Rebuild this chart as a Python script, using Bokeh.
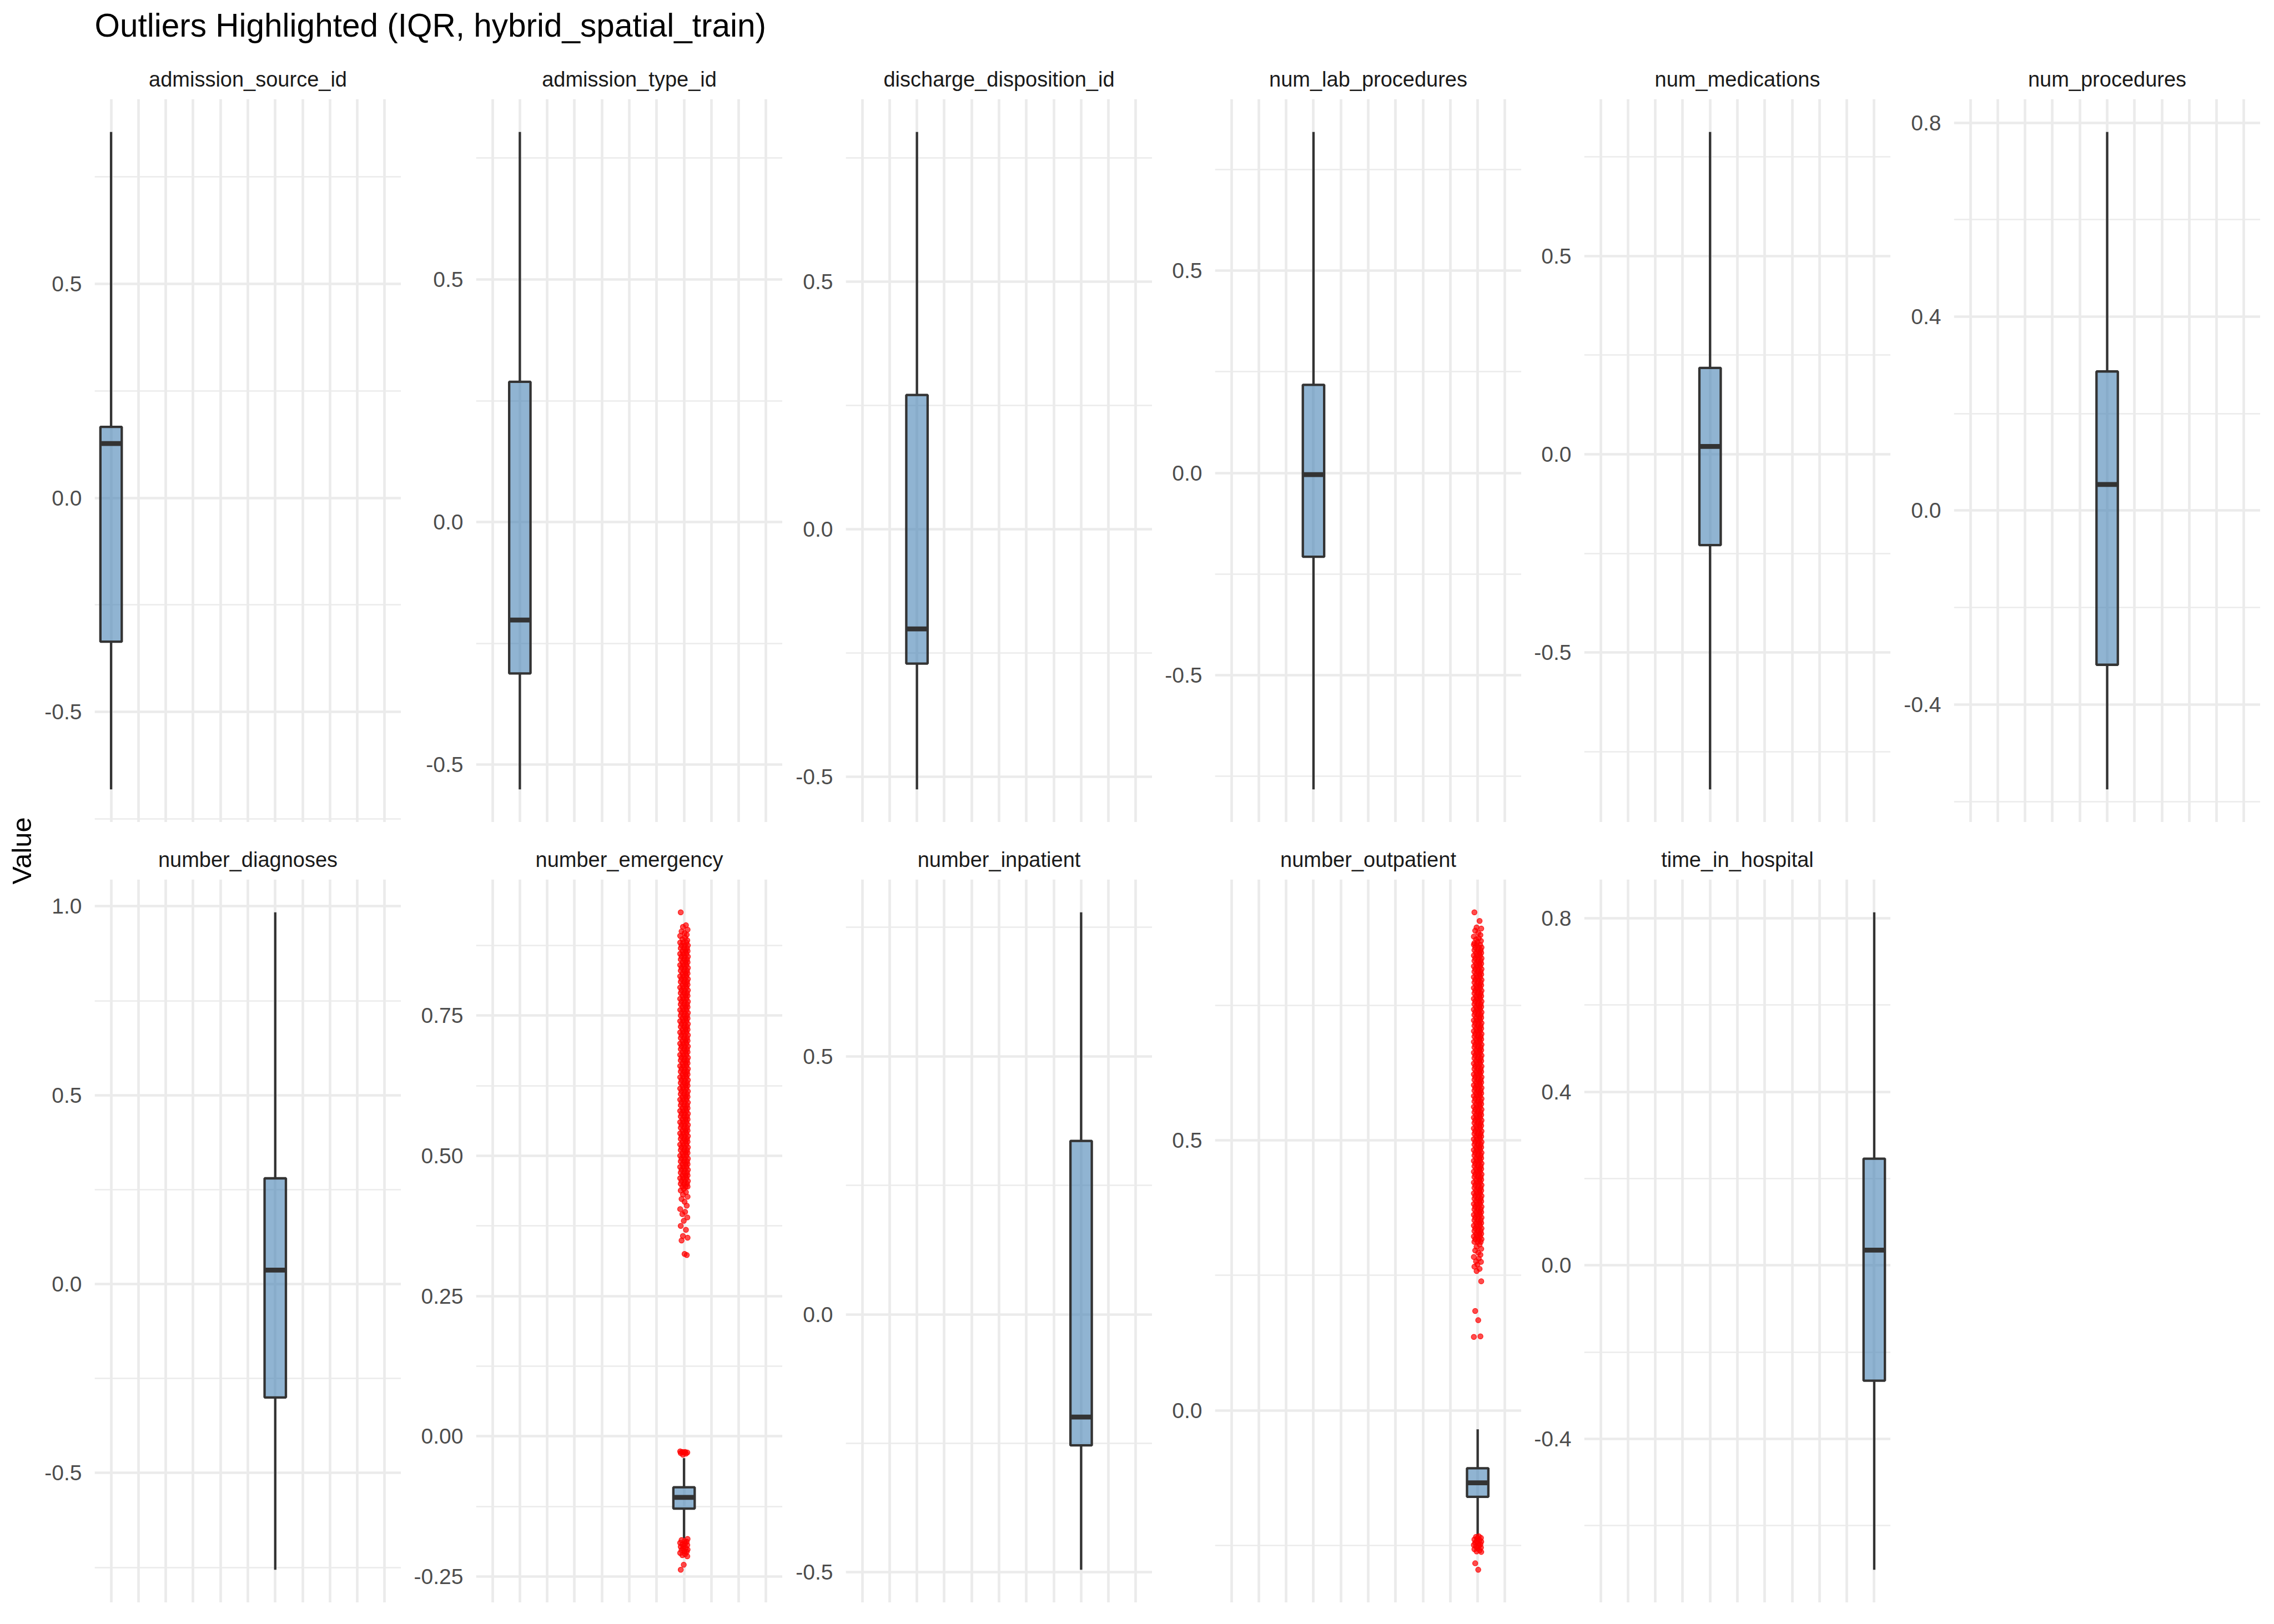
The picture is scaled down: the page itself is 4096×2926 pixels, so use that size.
from bokeh.plotting import figure
from bokeh.layouts import row, column
from bokeh.models import Range1d, FixedTicker, NumeralTickFormatter, Grid
from bokeh.embed import file_html
from bokeh.resources import INLINE

# ---------------- data ----------------
TITLE = "Outliers Highlighted (IQR, hybrid_spatial_train)"
Y_LABEL = "Value"

variables = ["admission_source_id", "admission_type_id", "discharge_disposition_id",
             "num_lab_procedures", "num_medications", "num_procedures",
             "number_diagnoses", "number_emergency", "number_inpatient",
             "number_outpatient", "time_in_hospital"]

whisker_low  = [-0.681, -0.551, -0.525, -0.782, -0.845, -0.575, -0.756, -0.182, -0.495, -0.232, -0.702]
q1           = [-0.336, -0.312, -0.271, -0.207, -0.229, -0.318, -0.300, -0.129, -0.254, -0.160, -0.266]
median       = [ 0.127, -0.202, -0.201, -0.004,  0.020,  0.054,  0.037, -0.109, -0.199, -0.134,  0.035]
q3           = [ 0.166,  0.289,  0.271,  0.218,  0.218,  0.287,  0.280, -0.091,  0.336, -0.107,  0.246]
whisker_high = [ 0.855,  0.804,  0.802,  0.843,  0.813,  0.781,  0.984, -0.039,  0.779, -0.035,  0.814]

y_major = [[-0.5, 0.0, 0.5], [-0.5, 0.0, 0.5], [-0.5, 0.0, 0.5], [-0.5, 0.0, 0.5],
           [-0.5, 0.0, 0.5], [-0.4, 0.0, 0.4, 0.8], [-0.5, 0.0, 0.5, 1.0],
           [-0.25, 0.0, 0.25, 0.5, 0.75], [-0.5, 0.0, 0.5], [0.0, 0.5], [-0.4, 0.0, 0.4, 0.8]]
y_labels = [["-0.5", "0.0", "0.5"], ["-0.5", "0.0", "0.5"], ["-0.5", "0.0", "0.5"],
            ["-0.5", "0.0", "0.5"], ["-0.5", "0.0", "0.5"], ["-0.4", "0.0", "0.4", "0.8"],
            ["-0.5", "0.0", "0.5", "1.0"], ["-0.25", "0.00", "0.25", "0.50", "0.75"],
            ["-0.5", "0.0", "0.5"], ["0.0", "0.5"], ["-0.4", "0.0", "0.4", "0.8"]]
y_minor = [[-0.75, -0.25, 0.25, 0.75]] * 5 + [[-0.6, -0.2, 0.2, 0.6], [-0.75, -0.25, 0.25, 0.75],
           [-0.125, 0.125, 0.375, 0.625, 0.875], [-0.75, -0.25, 0.25, 0.75],
           [-0.25, 0.25, 0.75], [-0.6, -0.2, 0.2, 0.6]]

# outliers of number_emergency (isolated points and small clusters)
emergency_outliers = [0.934, 0.911, 0.908, 0.903, 0.900, 0.897, 0.894, 0.892, 0.889, 0.886, 0.884,
                      0.441, 0.438, 0.435, 0.431, 0.427, 0.423, 0.418, 0.411, 0.405, 0.400, 0.396,
                      0.390, 0.384, 0.375, 0.368, 0.357, 0.354, 0.349, 0.325, 0.323,
                      -0.027, -0.028, -0.028, -0.029, -0.029, -0.030, -0.031, -0.033,
                      -0.183, -0.185, -0.187, -0.188, -0.190, -0.191, -0.193, -0.194, -0.196, -0.197,
                      -0.199, -0.200, -0.202, -0.203, -0.205, -0.206, -0.208, -0.210, -0.212, -0.214,
                      -0.229, -0.238]
# the solid band of number_emergency outliers
emergency_dense = [0.880, 0.875, 0.870, 0.865, 0.860, 0.855, 0.850, 0.845, 0.840, 0.835, 0.830,
                   0.825, 0.820, 0.815, 0.810, 0.805, 0.800, 0.795, 0.790, 0.785, 0.780, 0.775,
                   0.770, 0.765, 0.760, 0.755, 0.750, 0.745, 0.740, 0.735, 0.730, 0.725, 0.720,
                   0.715, 0.710, 0.705, 0.700, 0.695, 0.690, 0.685, 0.680, 0.675, 0.670, 0.665,
                   0.660, 0.655, 0.650, 0.645, 0.640, 0.635, 0.630, 0.625, 0.620, 0.615, 0.610,
                   0.605, 0.600, 0.595, 0.590, 0.585, 0.580, 0.575, 0.570, 0.565, 0.560, 0.555,
                   0.550, 0.545, 0.540, 0.535, 0.530, 0.525, 0.520, 0.515, 0.510, 0.505, 0.500,
                   0.495, 0.490, 0.485, 0.480, 0.475, 0.470, 0.465, 0.460, 0.455, 0.450, 0.445]

# outliers of number_outpatient
outpatient_outliers = [0.922, 0.906, 0.894, 0.892, 0.888, 0.884, 0.880, 0.877, 0.874, 0.872, 0.869,
                       0.867, 0.865,
                       0.307, 0.303, 0.299, 0.296, 0.292, 0.288, 0.284, 0.281, 0.276, 0.275, 0.270,
                       0.266, 0.262, 0.258, 0.239, 0.184, 0.167, 0.137, 0.136,
                       -0.233, -0.234, -0.236, -0.237, -0.239, -0.240, -0.242, -0.243, -0.245,
                       -0.246, -0.248, -0.249, -0.251, -0.252, -0.254, -0.255, -0.257, -0.259,
                       -0.261, -0.262, -0.283, -0.295]
outpatient_dense = [0.862, 0.857, 0.852, 0.847, 0.842, 0.837, 0.832, 0.827, 0.822, 0.817, 0.812,
                    0.807, 0.802, 0.797, 0.792, 0.787, 0.782, 0.777, 0.772, 0.767, 0.762, 0.757,
                    0.752, 0.747, 0.742, 0.737, 0.732, 0.727, 0.722, 0.717, 0.712, 0.707, 0.702,
                    0.697, 0.692, 0.687, 0.682, 0.677, 0.672, 0.667, 0.662, 0.657, 0.652, 0.647,
                    0.642, 0.637, 0.632, 0.627, 0.622, 0.617, 0.612, 0.607, 0.602, 0.597, 0.592,
                    0.587, 0.582, 0.577, 0.572, 0.567, 0.562, 0.557, 0.552, 0.547, 0.542, 0.537,
                    0.532, 0.527, 0.522, 0.517, 0.512, 0.507, 0.502, 0.497, 0.492, 0.487, 0.482,
                    0.477, 0.472, 0.467, 0.462, 0.457, 0.452, 0.447, 0.442, 0.437, 0.432, 0.427,
                    0.422, 0.417, 0.412, 0.407, 0.402, 0.397, 0.392, 0.387, 0.382, 0.377, 0.372,
                    0.367, 0.362, 0.357, 0.352, 0.347, 0.342, 0.337, 0.332, 0.327, 0.322, 0.317,
                    0.312]

outliers = {"number_emergency": (emergency_outliers, emergency_dense),
            "number_outpatient": (outpatient_outliers, outpatient_dense)}

# ---------------- styling / layout ----------------
FONT = "Liberation Sans"
FW, FH = 552, 1303
LEFT = [95, 135, 114, 113, 113, 114]
TOP = [93, 103]
GRID_COL = "#EBEBEB"
BOX_FILL = "#4682B4"
BOX_LINE = "#333333"

JIT = [-0.12, 0.07, -0.04, 0.13, -0.09, 0.02, 0.10, -0.14, 0.04, -0.06, 0.12, -0.01]
ROWS = [(-0.14, -0.03, 0.09), (-0.09, 0.03, 0.14), (-0.12, 0.0, 0.11), (-0.06, 0.06, 0.13)]


def jittered(pos, sparse, dense):
    xs, ys = [], []
    for k, v in enumerate(sparse):
        xs.append(pos + JIT[k % len(JIT)])
        ys.append(v)
    for k, v in enumerate(dense):
        for off in ROWS[k % len(ROWS)]:
            xs.append(pos + off)
            ys.append(v)
    return xs, ys


def panel(i):
    var = variables[i]
    pos = i + 1
    r, c = divmod(i, 6)
    vals = [whisker_low[i], whisker_high[i]]
    if var in outliers:
        vals += outliers[var][0] + outliers[var][1]
    lo, hi = min(vals), max(vals)
    pad = (hi - lo) * 0.05
    p = figure(frame_width=FW, frame_height=FH,
               x_range=Range1d(0.4, len(variables) + 0.6),
               y_range=Range1d(lo - pad, hi + pad),
               toolbar_location=None, output_backend="svg",
               x_axis_location=None, y_axis_location="left",
               min_border_left=LEFT[c], min_border_right=0,
               min_border_top=TOP[r], min_border_bottom=0,
               outline_line_color=None, background_fill_color="white",
               border_fill_color="white")
    # strip title
    p.title.text = var
    p.title.align = "center"
    p.title.text_font = FONT
    p.title.text_font_size = "38px"
    p.title.text_font_style = "normal"
    p.title.text_color = "#1A1A1A"
    p.title.standoff = 29
    # y axis
    ax = p.yaxis[0]
    ax.ticker = FixedTicker(ticks=y_major[i], minor_ticks=y_minor[i])
    ax.formatter = NumeralTickFormatter(format="0.00" if var == "number_emergency" else "0.0")
    ax.major_label_overrides = {float(t): lab for t, lab in zip(y_major[i], y_labels[i])}
    ax.axis_line_color = None
    ax.major_tick_line_color = None
    ax.minor_tick_line_color = None
    ax.major_tick_out = 0
    ax.major_tick_in = 0
    ax.minor_tick_out = 0
    ax.major_label_standoff = 23
    ax.major_label_text_font = FONT
    ax.major_label_text_font_size = "39px"
    ax.major_label_text_color = "#4D4D4D"
    # grids
    p.ygrid.grid_line_color = GRID_COL
    p.ygrid.grid_line_width = 4.7
    p.ygrid.minor_grid_line_color = GRID_COL
    p.ygrid.minor_grid_line_width = 2.35
    xt = FixedTicker(ticks=list(range(1, len(variables) + 1)), minor_ticks=[])
    if len(p.xgrid) == 0:
        p.add_layout(Grid(dimension=0, ticker=xt), "center")
    for g in p.xgrid:
        g.ticker = xt
        g.grid_line_color = GRID_COL
        g.grid_line_width = 4.7
        g.minor_grid_line_color = None
    # boxplot
    p.segment(x0=[pos, pos], y0=[q3[i], q1[i]], x1=[pos, pos], y1=[whisker_high[i], whisker_low[i]],
              line_color=BOX_LINE, line_width=4.3)
    p.vbar(x=[pos], width=0.78, bottom=[q1[i]], top=[q3[i]],
           fill_color=BOX_FILL, fill_alpha=0.6, line_color=BOX_LINE, line_width=4.3)
    p.segment(x0=[pos - 0.39], y0=[median[i]], x1=[pos + 0.39], y1=[median[i]],
              line_color=BOX_LINE, line_width=8.7, line_cap="butt")
    if var in outliers:
        xs, ys = jittered(pos, *outliers[var])
        p.scatter(x=xs, y=ys, size=9.3, marker="circle", fill_color="#FF0000", fill_alpha=0.7,
                  line_color="#FF0000", line_alpha=0.85, line_width=1.2)
    return p


figs = [panel(i) for i in range(len(variables))]

row1_h = TOP[0] + FH
row2_h = TOP[1] + FH

# title strip
tfig = figure(width=4071, height=85, toolbar_location=None, output_backend="svg",
              x_axis_location=None, y_axis_location=None,
              min_border_left=170, min_border_right=0, min_border_top=77, min_border_bottom=0,
              outline_line_color=None, border_fill_color="white", background_fill_color="white")
tfig.grid.visible = False
tfig.title.text = TITLE
tfig.title.align = "left"
tfig.title.text_font = FONT
tfig.title.text_font_size = "58.5px"
tfig.title.text_font_style = "normal"
tfig.title.text_color = "#000000"
tfig.title.standoff = 0

# y label strip
vfig = figure(frame_width=5, height=row1_h + row2_h, toolbar_location=None, output_backend="svg",
              x_axis_location=None, y_axis_location=None, title_location="left",
              min_border_left=70, min_border_right=0, min_border_top=TOP[0], min_border_bottom=0,
              outline_line_color=None, border_fill_color="white", background_fill_color="white")
vfig.grid.visible = False
vfig.title.text = Y_LABEL
vfig.title.align = "center"
vfig.title.text_font = FONT
vfig.title.text_font_size = "48.75px"
vfig.title.text_font_style = "normal"
vfig.title.text_color = "#000000"
vfig.title.standoff = 10

layout = column(tfig, row(vfig, column(row(*figs[:6]), row(*figs[6:]))))

open("out.html", "w").write(file_html(layout, INLINE, title=TITLE))
